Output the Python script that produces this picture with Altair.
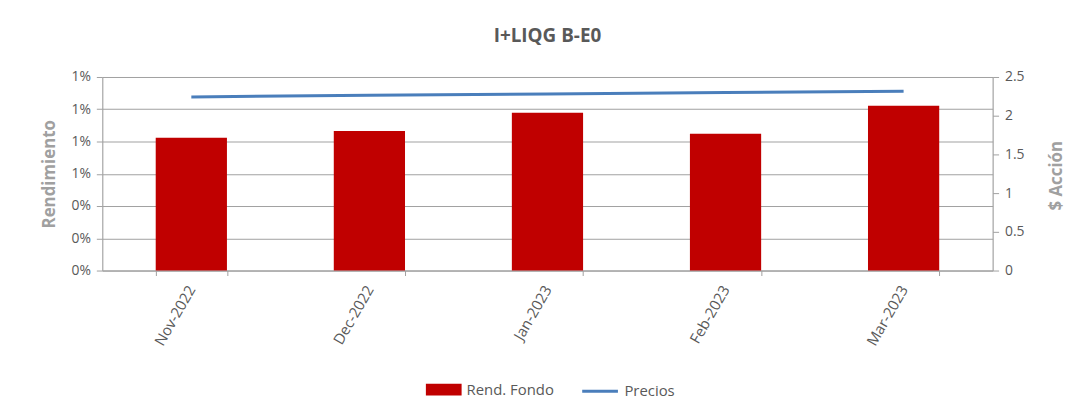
import altair as alt
import pandas as pd

months = ["Nov-2022", "Dec-2022", "Jan-2023", "Feb-2023", "Mar-2023"]
rend_fondo = [0.00823, 0.00865, 0.00978, 0.00848, 0.01021]
precios = [2.243, 2.264, 2.281, 2.299, 2.316]

df = pd.DataFrame({"Mes": months, "Rend": rend_fondo, "Precio": precios,
                   "S1": ["Rend. Fondo"] * 5, "S2": ["Precios"] * 5})

FONT = "Open Sans"
GRID = "#A0A0A0"
LABEL = "#595959"
TITLEC = "#A0A0A0"

xenc = alt.X("Mes:N", sort=months, title=None,
             scale=alt.Scale(paddingInner=0.6, paddingOuter=0.3),
             axis=alt.Axis(labelAngle=-60, labelAlign="right", labelBaseline="middle",
                           labelFont=FONT, labelFontSize=15, labelColor=LABEL,
                           labelPadding=11, tickBand="extent", tickSize=5,
                           tickColor=GRID, domainColor=GRID, grid=False))

bars = alt.Chart(df).mark_bar(color="#C00000").encode(
    x=xenc,
    y=alt.Y("Rend:Q", title="Rendimiento",
            scale=alt.Scale(domain=[0, 0.012], nice=False),
            axis=alt.Axis(format=".0%", values=[0, 0.002, 0.004, 0.006, 0.008, 0.010, 0.012],
                          labelFont=FONT, labelFontSize=14, labelColor=LABEL,
                          titleFont=FONT, titleFontSize=17, titleFontWeight="bold",
                          titleColor=TITLEC, titlePadding=13,
                          grid=True, gridColor=GRID, gridWidth=1,
                          tickColor=GRID, tickSize=6, domainColor=GRID, labelPadding=6)),
    fill=alt.Fill("S1:N", scale=alt.Scale(domain=["Rend. Fondo"], range=["#C00000"]),
                  legend=alt.Legend(title=None, orient="none", legendX=326, legendY=297,
                                    symbolType="M-1,-0.33L1,-0.33L1,0.33L-1,0.33Z",
                                    symbolSize=1296, symbolStrokeWidth=0,
                                    labelFont=FONT, labelFontSize=15, labelColor=LABEL,
                                    labelOffset=5, padding=0))
)

line = alt.Chart(df).mark_line(color="#4A7EBB", strokeWidth=3).encode(
    x=alt.X("Mes:N", sort=months),
    y=alt.Y("Precio:Q", title="$ Acción",
            scale=alt.Scale(domain=[0, 2.5], nice=False),
            axis=alt.Axis(orient="right", values=[0, 0.5, 1, 1.5, 2, 2.5], format="~g",
                          labelFont=FONT, labelFontSize=14, labelColor=LABEL,
                          titleFont=FONT, titleFontSize=17, titleFontWeight="bold",
                          titleColor=TITLEC, titleAngle=270, titleX=64, titleY=99,
                          titleAlign="center", titleBaseline="middle",
                          grid=False, tickColor=GRID, tickSize=6, domainColor=GRID,
                          labelPadding=6)),
    stroke=alt.Stroke("S2:N", scale=alt.Scale(domain=["Precios"], range=["#4A7EBB"]),
                      legend=alt.Legend(title=None, orient="none", legendX=482, legendY=297,
                                        symbolType="stroke", symbolSize=1296,
                                        symbolStrokeWidth=3,
                                        labelFont=FONT, labelFontSize=15, labelColor=LABEL,
                                        labelOffset=5, padding=0))
)

chart = alt.layer(bars, line).resolve_scale(y="independent", fill="independent",
                                            stroke="independent").properties(
    width=897, height=195,
    title=alt.Title("I+LIQG B-E0", font=FONT, fontSize=19, fontWeight="bold",
                    color=LABEL, anchor="middle", offset=24),
    autosize=alt.AutoSizeParams(type="none"),
    padding={"left": 95, "top": 68, "right": 86, "bottom": 141},
).configure_view(stroke=None).configure(background="white")

chart.save("out.html", embed_options={"renderer": "svg", "actions": False})
